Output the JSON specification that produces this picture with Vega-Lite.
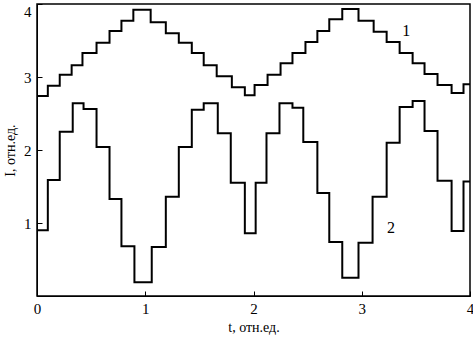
{
  "$schema": "https://vega.github.io/schema/vega-lite/v6.json",
  "width": 433,
  "height": 292,
  "autosize": "none",
  "padding": {"left": 37, "top": 4, "right": 3, "bottom": 44},
  "background": "white",
  "config": {
    "view": {"stroke": "black", "strokeWidth": 1.5},
    "axis": {
      "labelFont": "Liberation Serif",
      "titleFont": "Liberation Serif",
      "labelFontSize": 15,
      "titleFontSize": 14,
      "titleFontWeight": "normal",
      "labelColor": "black",
      "titleColor": "black",
      "domainColor": "black",
      "tickColor": "black",
      "grid": false
    }
  },
  "datasets": {
    "curves": [
      {"series": "1", "t": 0.0, "v": 2.74},
      {"series": "1", "t": 0.10, "v": 2.88},
      {"series": "1", "t": 0.21, "v": 3.03},
      {"series": "1", "t": 0.32, "v": 3.16},
      {"series": "1", "t": 0.42, "v": 3.33},
      {"series": "1", "t": 0.55, "v": 3.47},
      {"series": "1", "t": 0.67, "v": 3.63},
      {"series": "1", "t": 0.78, "v": 3.77},
      {"series": "1", "t": 0.89, "v": 3.92},
      {"series": "1", "t": 1.05, "v": 3.75},
      {"series": "1", "t": 1.19, "v": 3.60},
      {"series": "1", "t": 1.31, "v": 3.47},
      {"series": "1", "t": 1.43, "v": 3.33},
      {"series": "1", "t": 1.54, "v": 3.16},
      {"series": "1", "t": 1.66, "v": 3.01},
      {"series": "1", "t": 1.80, "v": 2.86},
      {"series": "1", "t": 1.92, "v": 2.75},
      {"series": "1", "t": 2.01, "v": 2.89},
      {"series": "1", "t": 2.13, "v": 3.03},
      {"series": "1", "t": 2.25, "v": 3.19},
      {"series": "1", "t": 2.36, "v": 3.33},
      {"series": "1", "t": 2.48, "v": 3.48},
      {"series": "1", "t": 2.59, "v": 3.63},
      {"series": "1", "t": 2.70, "v": 3.79},
      {"series": "1", "t": 2.82, "v": 3.93},
      {"series": "1", "t": 2.97, "v": 3.77},
      {"series": "1", "t": 3.11, "v": 3.62},
      {"series": "1", "t": 3.23, "v": 3.48},
      {"series": "1", "t": 3.35, "v": 3.33},
      {"series": "1", "t": 3.47, "v": 3.19},
      {"series": "1", "t": 3.58, "v": 3.04},
      {"series": "1", "t": 3.70, "v": 2.89},
      {"series": "1", "t": 3.83, "v": 2.78},
      {"series": "1", "t": 3.94, "v": 2.90},
      {"series": "1", "t": 4.0, "v": 2.90},
      {"series": "2", "t": 0.0, "v": 0.9},
      {"series": "2", "t": 0.10, "v": 1.59},
      {"series": "2", "t": 0.21, "v": 2.25},
      {"series": "2", "t": 0.33, "v": 2.64},
      {"series": "2", "t": 0.43, "v": 2.56},
      {"series": "2", "t": 0.55, "v": 2.04},
      {"series": "2", "t": 0.67, "v": 1.33},
      {"series": "2", "t": 0.78, "v": 0.68},
      {"series": "2", "t": 0.90, "v": 0.19},
      {"series": "2", "t": 1.06, "v": 0.67},
      {"series": "2", "t": 1.19, "v": 1.36},
      {"series": "2", "t": 1.31, "v": 2.04},
      {"series": "2", "t": 1.43, "v": 2.55},
      {"series": "2", "t": 1.54, "v": 2.64},
      {"series": "2", "t": 1.67, "v": 2.23},
      {"series": "2", "t": 1.79, "v": 1.55},
      {"series": "2", "t": 1.92, "v": 0.86},
      {"series": "2", "t": 2.02, "v": 1.55},
      {"series": "2", "t": 2.12, "v": 2.23},
      {"series": "2", "t": 2.24, "v": 2.64},
      {"series": "2", "t": 2.36, "v": 2.58},
      {"series": "2", "t": 2.46, "v": 2.11},
      {"series": "2", "t": 2.59, "v": 1.41},
      {"series": "2", "t": 2.70, "v": 0.74},
      {"series": "2", "t": 2.82, "v": 0.25},
      {"series": "2", "t": 2.97, "v": 0.73},
      {"series": "2", "t": 3.10, "v": 1.36},
      {"series": "2", "t": 3.23, "v": 2.10},
      {"series": "2", "t": 3.35, "v": 2.59},
      {"series": "2", "t": 3.47, "v": 2.67},
      {"series": "2", "t": 3.58, "v": 2.26},
      {"series": "2", "t": 3.70, "v": 1.58},
      {"series": "2", "t": 3.83, "v": 0.89},
      {"series": "2", "t": 3.94, "v": 1.57},
      {"series": "2", "t": 4.0, "v": 1.57}
    ],
    "labels": [
      {"t": 3.41, "v": 3.63, "label": "1", "w": "normal"},
      {"t": 3.27, "v": 0.93, "label": "2", "w": "bold"}
    ]
  },
  "layer": [
    {
      "data": {"name": "curves"},
      "mark": {"type": "line", "interpolate": "step-after", "color": "black", "strokeWidth": 2},
      "encoding": {
        "x": {
          "field": "t", "type": "quantitative",
          "scale": {"domain": [0, 4], "nice": false},
          "axis": {"values": [0, 1, 2, 3, 4], "format": "d", "title": "t, отн.ед.", "tickSize": -5, "labelPadding": 10, "titlePadding": 4, "labelFlush": false}
        },
        "y": {
          "field": "v", "type": "quantitative",
          "scale": {"domain": [0, 4], "nice": false},
          "axis": {"values": [1, 2, 3, 4], "format": "d", "title": "I, отн.ед.", "tickSize": -5, "labelPadding": 11, "titlePadding": 6, "labelFlush": true}
        },
        "detail": {"field": "series"}
      }
    },
    {
      "data": {"name": "labels"},
      "mark": {"type": "text", "font": "Liberation Serif", "fontSize": 16, "color": "black"},
      "encoding": {
        "x": {"field": "t", "type": "quantitative"},
        "y": {"field": "v", "type": "quantitative"},
        "text": {"field": "label"},
        "fontWeight": {"field": "w", "type": "nominal", "scale": null}
      }
    }
  ]
}
